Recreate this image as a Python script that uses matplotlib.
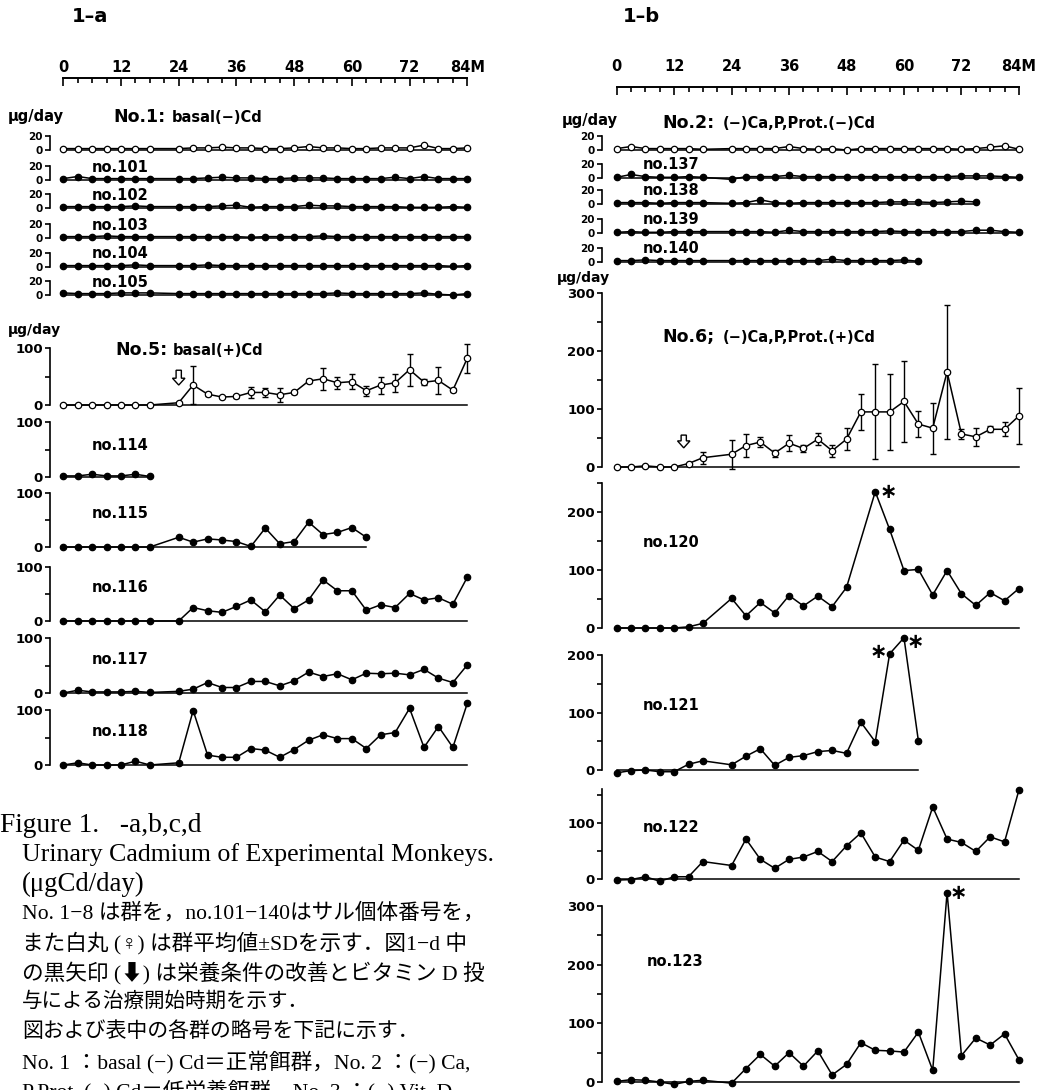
import matplotlib.pyplot as plt

W, H = 1051, 1090

# sampling months (every 3 months, no sample at 21)
months = [0, 3, 6, 9, 12, 15, 18, 24, 27, 30, 33, 36, 39, 42, 45, 48, 51, 54,
          57, 60, 63, 66, 69, 72, 75, 78, 81, 84]
months_120 = [0, 3, 6, 9, 12, 15, 18, 24, 27, 30, 33, 36, 39, 42, 45, 48, 54,
              57, 60, 63, 66, 69, 72, 75, 78, 81, 84]

# 1-a: group No.1 mean and animals 101-105 (ug/day)
grp1 = [2, 2, 2, 2, 2, 2, 2, 2, 3, 3, 4, 3, 3, 2, 2, 3, 5, 3, 3, 2, 2, 3, 3, 3, 7, 2, 2, 3]
m101 = [2, 5, 2, 2, 2, 2, 2, 2, 2, 3, 4, 3, 3, 2, 2, 3, 3, 3, 2, 2, 2, 2, 4, 2, 5, 2, 2, 2]
m102 = [2, 2, 2, 2, 2, 3, 2, 2, 2, 2, 3, 4, 1, 2, 2, 2, 4, 3, 3, 2, 2, 2, 2, 1, 1, 1, 2, 1]
m103 = [2, 2, 2, 3, 2, 2, 2, 2, 2, 2, 2, 2, 1, 2, 2, 2, 2, 3, 2, 2, 2, 2, 2, 2, 2, 2, 2, 2]
m104 = [2, 2, 2, 2, 2, 3, 2, 2, 2, 3, 2, 2, 2, 2, 2, 2, 2, 2, 2, 2, 2, 2, 2, 2, 2, 2, 1, 2]
m105 = [3, 2, 2, 2, 3, 3, 3, 2, 2, 2, 2, 2, 2, 2, 2, 2, 2, 2, 3, 2, 2, 2, 2, 2, 3, 1, 0, 2]

# 1-a: group No.5 mean +- SD and animals 114-118
grp5_mean = [0, 0, 0, 0, 0, 0, 0, 4, 35, 19, 14, 15, 22, 22, 18, 22, 42, 46, 39, 41,
             25, 35, 39, 62, 40, 43, 26, 82]
grp5_sd = [0, 0, 0, 0, 0, 0, 0, 2, 33, 3, 2, 3, 9, 8, 12, 3, 3, 19, 11, 13,
           9, 15, 16, 28, 5, 24, 4, 25]
m114 = [2, 2, 5, 2, 2, 5, 1]
m115 = [0, 0, 0, 0, 0, 0, 0, 18, 9, 15, 13, 10, 1, 35, 6, 10, 46, 23, 27, 36, 18]
m116 = [0, 0, 0, 0, 0, 0, 0, 0, 25, 19, 16, 27, 39, 17, 48, 23, 39, 76, 56, 56,
        20, 30, 25, 51, 39, 43, 31, 81]
m117 = [0, 5, 2, 2, 2, 3, 1, 3, 7, 19, 10, 10, 21, 21, 13, 22, 38, 30, 35, 24,
        36, 35, 36, 33, 43, 27, 19, 51]
m118 = [0, 4, 0, 0, 0, 7, 0, 4, 99, 18, 14, 14, 30, 27, 14, 28, 45, 55, 48, 48,
        30, 55, 59, 103, 32, 70, 32, 112]

# 1-b: group No.2 mean and animals 137-140
grp2 = [2, 5, 2, 2, 2, 2, 1, 2, 2, 2, 2, 5, 2, 1, 2, 0, 2, 2, 2, 2, 2, 2, 2, 1, 2, 4, 6, 1]
m137 = [1, 5, 2, 1, 1, 2, 1, -2, 2, 2, 2, 4, 2, 2, 2, 2, 2, 2, 2, 2, 2, 2, 2, 3, 3, 3, 2, 1]
m138 = [2, 2, 2, 1, 2, 2, 2, 1, 2, 6, 2, 1, 2, 2, 2, 2, 2, 2, 3, 3, 3, 2, 3, 4, 3]
m139 = [1, 2, 1, 1, 2, 2, 2, 2, 2, 2, 1, 4, 2, 2, 2, 2, 2, 2, 3, 2, 2, 2, 2, 2, 4, 4, 2, 1]
m140 = [2, 2, 3, 2, 2, 2, 2, 2, 2, 2, 2, 2, 2, 2, 4, 2, 2, 2, 2, 3, 1]

# 1-b: group No.6 mean +- SD and animals 120-123
grp6_mean = [0, 0, 2, 0, 0, 6, 16, 22, 37, 43, 24, 41, 32, 48, 28, 48, 95, 95, 95, 113,
             74, 67, 164, 57, 52, 65, 65, 88]
grp6_sd = [0, 0, 0, 0, 0, 0, 10, 25, 20, 9, 6, 14, 6, 10, 10, 19, 31, 82, 65, 70,
           23, 44, 116, 8, 15, 5, 12, 49]
m120 = [0, 0, 0, 0, 0, 2, 8, 51, 21, 44, 26, 56, 38, 55, 37, 70, 235, 170, 99, 101,
        57, 99, 59, 39, 61, 47, 68]
m121 = [-5, -1, 0, -3, -3, 10, 16, 9, 24, 37, 8, 22, 25, 32, 34, 29, 83, 49, 202, 230, 51]
m122 = [-2, -1, 4, -4, 4, 4, 31, 24, 71, 35, 19, 35, 39, 49, 31, 59, 82, 39, 31, 69,
        51, 128, 71, 65, 49, 75, 66, 158]
m123 = [1, 4, 3, 0, -4, 1, 3, -2, 23, 47, 27, 50, 27, 53, 12, 30, 67, 54, 53, 51,
        85, 20, 323, 45, 75, 63, 82, 38]

ruler_ticks = [0, 12, 24, 36, 48, 60, 72, 84]
ruler_labels = ['0', '12', '24', '36', '48', '60', '72', '84M']

caption = [
    'Figure 1.   -a,b,c,d',
    'Urinary Cadmium of Experimental Monkeys.',
    '(μgCd/day)',
    'No. 1−8 は群を，no.101−140はサル個体番号を，',
    'また白丸 (♀) は群平均値±SDを示す．図1−d 中',
    'の黒矢印 (⬇) は栄養条件の改善とビタミン D 投',
    '与による治療開始時期を示す．',
    '図および表中の各群の略号を下記に示す．',
    'No. 1 ：basal (−) Cd＝正常餌群，No. 2 ：(−) Ca,',
    'P,Prot. (−) Cd＝低栄養餌群，No. 3 ：(−) Vit. D',
]

fig = plt.figure(figsize=(W / 100, H / 100), dpi=100)

# x extent of each half: pixel left/right and matching month limits
LEFT = (50, 477, -2.765, 86.02)
RIGHT = (602, 1028, -3.07, 85.9)


def px_text(x, y, s, size, **kw):
    kw.setdefault('fontweight', 'bold')
    return fig.text(x / W, 1 - y / H, s, fontsize=size, **kw)


def make_ax(side, y0, ytop, top):
    x0, x1, lo, hi = side
    ax = fig.add_axes([x0 / W, 1 - y0 / H, (x1 - x0) / W, (y0 - ytop) / H])
    ax.set_xlim(lo, hi)
    ax.set_ylim(0, top)
    ax.patch.set_visible(False)
    for s in ('top', 'right', 'bottom'):
        ax.spines[s].set_visible(False)
    ax.spines['left'].set_linewidth(1.2)
    ax.set_xticks([])
    ax.tick_params(axis='y', direction='out', length=3.5, width=1.2, pad=1.5)
    return ax


def small_ax(side, y0):
    ax = make_ax(side, y0, y0 - 14, 20)
    ax.set_yticks([0, 20])
    ax.set_yticklabels(['0', '20'], fontsize=7.5, fontweight='bold')
    return ax


def big_ax(side, y0, ytop, top, ticks, labels):
    ax = make_ax(side, y0, ytop, top)
    ax.set_yticks(ticks)
    ax.set_yticklabels(labels, fontsize=9.5, fontweight='bold')
    return ax


def trace(ax, x, y, hollow=False):
    x = x[:len(y)]
    ax.plot([x[0], x[-1]], [0, 0], color='k', lw=1.1, clip_on=False, zorder=2)
    ax.plot(x, y, '-o', color='k', lw=1.1, ms=4.6, mfc='white' if hollow else 'k',
            mec='k', mew=0.9, clip_on=False, zorder=3)


def mean_sd(ax, x, mean, sd):
    ex = [a for a, s in zip(x, sd) if s > 0]
    ey = [m for m, s in zip(mean, sd) if s > 0]
    es = [s for s in sd if s > 0]
    eb = ax.errorbar(ex, ey, yerr=es, fmt='none', ecolor='k', elinewidth=1.0,
                     capsize=2.5, capthick=1.0, zorder=2)
    for art in eb.get_children():
        art.set_clip_on(False)
    trace(ax, x, mean, hollow=True)


def down_arrow(ax, x, y_tail, y_tip, hw, hl):
    ax.arrow(x, y_tail, 0, y_tip - y_tail, width=hw * 0.42, head_width=hw,
             head_length=hl, length_includes_head=True, fc='white', ec='k',
             lw=1.0, clip_on=False, zorder=4)


def star(ax, x, y, dx, dy):
    ax.annotate('∗', xy=(x, y), xytext=(dx, dy), textcoords='offset points',
                ha='center', va='center', fontsize=15, fontweight='bold',
                annotation_clip=False)


def ruler(side, y_line, pad):
    x0, x1, lo, hi = side
    ax = fig.add_axes([x0 / W, 1 - (y_line + 10) / H, (x1 - x0) / W, 10 / H])
    ax.set_xlim(lo, hi)
    ax.patch.set_visible(False)
    for s in ('left', 'right', 'bottom'):
        ax.spines[s].set_visible(False)
    ax.spines['top'].set_linewidth(1.4)
    ax.spines['top'].set_bounds(0, 84)
    ax.set_yticks([])
    ax.set_xticks(ruler_ticks)
    ax.set_xticklabels(ruler_labels, fontsize=10.5, fontweight='bold')
    ax.set_xticks(list(range(0, 85, 3)), minor=True)
    ax.tick_params(axis='x', which='both', top=True, bottom=False, labeltop=True,
                   labelbottom=False, direction='in', width=1.2)
    ax.tick_params(axis='x', which='major', length=5.5, pad=pad)
    ax.tick_params(axis='x', which='minor', length=3.5)


# ---------------- 1-a ----------------
px_text(72, 17, '1–a', 14, va='center')
ruler(LEFT, 78, 2.5)
px_text(8, 117, 'μg/day', 10.5, va='center')
px_text(113, 122.5, 'No.1:', 12.5, va='baseline')
px_text(172, 122, 'basal(−)Cd', 10.5, va='baseline')

rows_a = [(grp1, None, 150), (m101, 'no.101', 180), (m102, 'no.102', 208),
          (m103, 'no.103', 238), (m104, 'no.104', 267), (m105, 'no.105', 295)]
for vals, name, y0 in rows_a:
    ax = small_ax(LEFT, y0)
    trace(ax, months, vals, hollow=name is None)
    if name:
        px_text(92, y0 - 8.5, name, 10.5, va='baseline')

px_text(8, 330, 'μg/day', 10, va='center')
ax5 = big_ax(LEFT, 405, 348, 100, [0, 50, 100], ['0', '', '100'])
mean_sd(ax5, months, grp5_mean, grp5_sd)
down_arrow(ax5, 24, 61, 35, 2.6, 12)
px_text(115, 355.5, 'No.5:', 12.5, va='baseline')
px_text(173, 355, 'basal(+)Cd', 10.5, va='baseline')

panels_a = [(m114, 'no.114', 477, 422, 445), (m115, 'no.115', 547, 493, 513),
            (m116, 'no.116', 621, 567, 587), (m117, 'no.117', 693, 638, 660),
            (m118, 'no.118', 765, 710, 732)]
for vals, name, y0, y100, ylab in panels_a:
    ax = big_ax(LEFT, y0, y100, 100, [0, 50, 100], ['0', '', '100'])
    trace(ax, months, vals)
    px_text(92, ylab, name, 10.5, va='center')

# ---------------- 1-b ----------------
px_text(623, 17, '1–b', 14, va='center')
ruler(RIGHT, 87, 9.5)
px_text(562, 120, 'μg/day', 10.5, va='center')
px_text(662, 128, 'No.2:', 12.5, va='baseline')
px_text(723, 128, '(−)Ca,P,Prot.(−)Cd', 10.5, va='baseline')

rows_b = [(grp2, None, 150), (m137, 'no.137', 178), (m138, 'no.138', 204),
          (m139, 'no.139', 233), (m140, 'no.140', 262)]
for vals, name, y0 in rows_b:
    ax = small_ax(RIGHT, y0)
    trace(ax, months, vals, hollow=name is None)
    if name:
        px_text(643, y0 - 9, name, 10.5, va='baseline')

px_text(557, 278, 'μg/day', 10, va='center')
ax6 = big_ax(RIGHT, 467, 293, 300, [0, 50, 100, 150, 200, 250, 300],
             ['0', '', '100', '', '200', '', '300'])
mean_sd(ax6, months, grp6_mean, grp6_sd)
down_arrow(ax6, 14, 55, 33, 2.6, 12)
px_text(662, 342, 'No.6;', 12.5, va='baseline')
px_text(723, 342, '(−)Ca,P,Prot.(+)Cd', 10.5, va='baseline')

ax = big_ax(RIGHT, 628, 483, 250, [0, 50, 100, 150, 200, 250],
            ['0', '', '100', '', '200', ''])
trace(ax, months_120, m120)
star(ax, 54, 235, 9.5, 0)
px_text(643, 542, 'no.120', 10.5, va='center')

ax = big_ax(RIGHT, 770, 655, 200, [0, 50, 100, 150, 200], ['0', '', '100', '', '200'])
trace(ax, months, m121)
star(ax, 57, 202, -8, 1)
star(ax, 60, 230, 8.5, -3)
px_text(643, 705, 'no.121', 10.5, va='center')

ax = big_ax(RIGHT, 879, 789, 160, [0, 50, 100, 150], ['0', '', '100', ''])
trace(ax, months, m122)
px_text(643, 828, 'no.122', 10.5, va='center')

ax = big_ax(RIGHT, 1082, 906, 300, [0, 50, 100, 150, 200, 250, 300],
            ['0', '', '100', '', '200', '', '300'])
trace(ax, months, m123)
star(ax, 69, 323, 8, 0)
px_text(647, 962, 'no.123', 10.5, va='center')

# ---------------- caption ----------------
# english lines are stretched to the scanned width, japanese lines kept near 15pt
cap_fonts = ['Liberation Serif', 'Noto Sans CJK JP', 'DejaVu Sans']
cap_x = [0, 22, 22, 22, 22, 22, 22, 22, 22, 22]
cap_right = [203, 497, 145, 497, 497, 497, 302, 420, 497, 497]
renderer = fig.canvas.get_renderer()
for i, line in enumerate(caption):
    t = px_text(cap_x[i], 825 + i * 29.6, line, 15, va='center',
                fontweight='normal', family=cap_fonts)
    w = t.get_window_extent(renderer).width
    size = 15 * (cap_right[i] - cap_x[i]) / w
    if i >= 3:
        size = min(max(size, 14.8), 15.6)
    t.set_fontsize(size)

fig.savefig('out.png', dpi=100)
